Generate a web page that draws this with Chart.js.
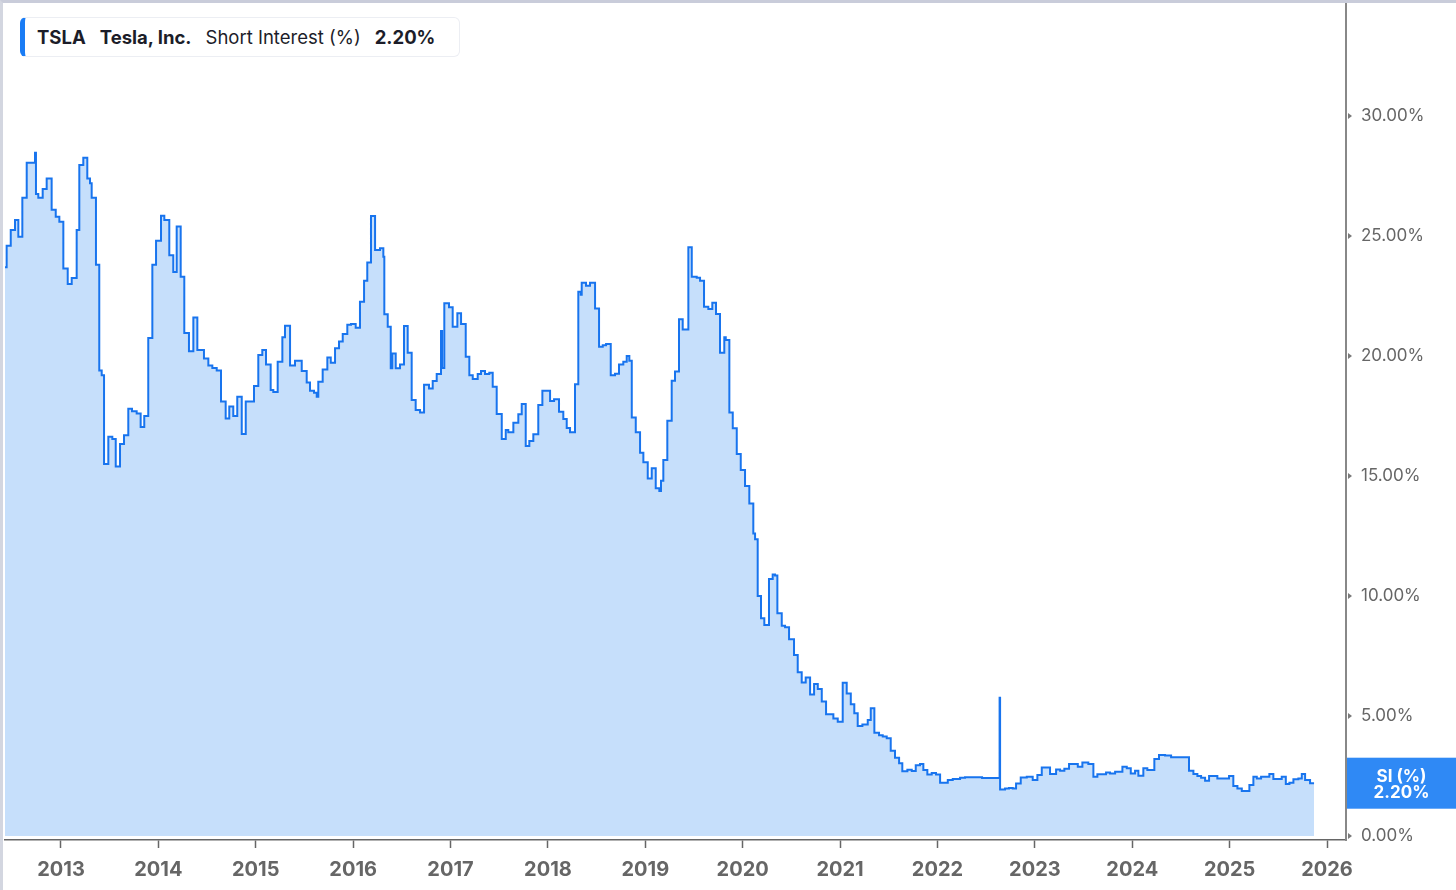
<!DOCTYPE html>
<html>
<head>
<meta charset="utf-8">
<script src="https://cdn.jsdelivr.net/npm/chart.js@4"></script>
<style>
  html, body { margin: 0; padding: 0; background: #fff; }
  #wrap { position: relative; width: 1456px; height: 890px; overflow: hidden; }
  #frame { position: absolute; left: 0; top: 0; width: 1456px; height: 890px; box-sizing: border-box;
           border-top: 3px solid #c9ccda; border-left: 3px solid #d3d6e0; pointer-events: none; }
  #legend { position: absolute; left: 20px; top: 17px; width: 440px; height: 40px; box-sizing: border-box;
            border: 1px solid #eceef3; border-left: 5px solid #1a7cf5; border-radius: 6px; background: #fff;
            font-family: Inter, "Noto Sans", sans-serif; font-size: 18.5px; color: #1c1d29;
            display: flex; align-items: center; padding-left: 12px; white-space: nowrap; }
  #legend span { margin-right: 14px; }
  #legend .b { font-weight: 700; }
</style>
</head>
<body>
<div id="wrap">
  <canvas id="c" width="1456" height="890"></canvas>
  <div id="legend"><span class="b">TSLA</span><span class="b">Tesla, Inc.</span><span>Short Interest (%)</span><span class="b">2.20%</span></div>
  <div id="frame"></div>
</div>
<script>
// Dates as decimal years; value = short interest in % (level from that date on)
const dates = [
2012.425,2012.442,2012.484,2012.528,2012.562,2012.603,2012.648,2012.733,2012.743,2012.767,
2012.812,2012.853,2012.904,2012.946,2012.983,2013.024,2013.069,2013.110,2013.161,2013.188,
2013.229,2013.270,2013.298,2013.315,2013.359,2013.393,2013.418,2013.442,2013.486,2013.527,
2013.562,2013.606,2013.647,2013.691,2013.729,2013.777,2013.818,2013.855,2013.896,2013.938,
2013.976,2014.027,2014.061,2014.112,2014.153,2014.188,2014.229,2014.266,2014.314,2014.359,
2014.400,2014.468,2014.513,2014.554,2014.599,2014.643,2014.691,2014.728,2014.769,2014.810,
2014.856,2014.897,2014.982,2015.026,2015.067,2015.105,2015.153,2015.180,2015.225,2015.273,
2015.300,2015.352,2015.403,2015.472,2015.523,2015.557,2015.598,2015.626,2015.642,2015.687,
2015.735,2015.770,2015.814,2015.855,2015.893,2015.940,2015.978,2016.026,2016.070,2016.112,
2016.145,2016.183,2016.225,2016.276,2016.310,2016.320,2016.355,2016.386,2016.402,2016.437,
2016.481,2016.522,2016.560,2016.601,2016.642,2016.687,2016.728,2016.779,2016.817,2016.858,
2016.902,2016.913,2016.936,2016.984,2017.022,2017.070,2017.108,2017.156,2017.193,2017.228,
2017.279,2017.313,2017.354,2017.398,2017.433,2017.474,2017.526,2017.567,2017.593,2017.645,
2017.696,2017.731,2017.772,2017.809,2017.850,2017.901,2017.943,2018.022,2018.063,2018.114,
2018.158,2018.193,2018.227,2018.278,2018.312,2018.337,2018.347,2018.391,2018.432,2018.484,
2018.525,2018.563,2018.597,2018.645,2018.689,2018.730,2018.774,2018.809,2018.836,2018.861,
2018.902,2018.946,2018.980,2019.025,2019.066,2019.107,2019.144,2019.161,2019.185,2019.226,
2019.271,2019.305,2019.346,2019.384,2019.442,2019.477,2019.528,2019.562,2019.603,2019.647,
2019.688,2019.726,2019.767,2019.811,2019.826,2019.863,2019.898,2019.939,2019.980,2020.024,
2020.068,2020.109,2020.127,2020.154,2020.188,2020.222,2020.270,2020.308,2020.332,2020.356,
2020.401,2020.435,2020.476,2020.527,2020.565,2020.606,2020.647,2020.692,2020.733,2020.771,
2020.812,2020.856,2020.931,2020.976,2021.027,2021.068,2021.110,2021.146,2021.181,2021.229,
2021.284,2021.315,2021.352,2021.400,2021.438,2021.479,2021.520,2021.564,2021.606,2021.639,
2021.691,2021.736,2021.777,2021.821,2021.855,2021.896,2021.941,2021.985,2022.027,2022.106,
2022.157,2022.232,2022.283,2022.458,2022.638,2022.643,2022.694,2022.735,2022.773,2022.807,
2022.855,2022.917,2022.978,2023.026,2023.071,2023.156,2023.218,2023.259,2023.303,2023.351,
2023.441,2023.488,2023.549,2023.601,2023.642,2023.731,2023.772,2023.824,2023.899,2023.944,
2023.985,2024.029,2024.063,2024.114,2024.155,2024.227,2024.275,2024.337,2024.399,2024.583,
2024.628,2024.669,2024.707,2024.748,2024.789,2024.874,2024.994,2025.038,2025.080,2025.125,
2025.203,2025.244,2025.279,2025.323,2025.408,2025.449,2025.535,2025.577,2025.614,2025.655,
2025.706,2025.741,2025.775,2025.826,2025.867
];
const siValues = [
23.70,24.60,25.25,25.67,24.97,26.60,28.05,28.47,26.75,26.60,
26.96,27.40,26.10,25.80,25.60,23.65,23.00,23.25,25.25,27.96,
28.26,27.40,27.20,26.60,23.80,19.40,19.20,15.50,16.64,16.54,
15.40,16.33,16.70,17.80,17.70,17.60,17.04,17.50,20.75,23.80,
24.80,25.85,25.67,24.20,23.50,25.40,23.30,20.96,20.20,21.60,
20.25,19.90,19.60,19.50,19.40,18.10,17.40,17.90,17.50,18.30,
16.75,18.10,18.75,20.04,20.25,19.65,18.58,18.50,19.76,20.78,
21.26,19.60,19.80,19.38,18.90,18.55,18.47,18.30,18.93,19.44,
19.94,19.72,20.32,20.60,20.92,21.30,21.33,21.18,22.26,23.14,
23.90,25.83,24.42,24.49,24.14,21.74,21.22,19.49,20.10,19.49,
19.65,21.25,20.14,18.17,17.75,17.65,18.80,18.65,18.96,19.25,
21.04,19.50,22.20,22.03,21.22,21.78,21.33,19.97,19.20,19.04,
19.25,19.38,19.25,19.30,18.72,17.58,16.54,16.92,16.82,17.22,
17.57,18.00,16.25,16.46,16.74,17.96,18.55,18.13,18.20,17.68,
17.38,17.00,16.82,18.82,22.68,22.55,23.05,22.93,23.05,21.98,
20.39,20.45,20.50,19.20,19.26,19.65,19.76,20.00,19.80,17.44,
16.82,15.97,15.57,14.90,15.32,14.49,14.38,14.80,15.67,17.30,
18.97,19.35,21.53,21.10,24.53,23.30,23.26,23.14,22.05,21.96,
22.22,21.75,20.14,20.78,20.67,17.65,16.99,15.92,15.25,14.58,
13.86,12.60,12.36,10.00,9.07,8.79,10.71,10.90,10.85,9.28,
8.76,8.70,8.20,7.54,6.82,6.40,6.60,5.90,6.33,6.13,
5.60,5.07,4.90,4.76,6.39,5.94,5.49,5.11,4.58,4.65,
4.83,5.32,4.30,4.20,4.15,4.07,3.55,3.26,3.03,2.70,
2.76,2.71,2.95,3.00,2.75,2.56,2.62,2.56,2.22,2.33,
2.38,2.43,2.45,2.42,5.76,1.94,1.98,2.00,1.98,2.19,
2.44,2.47,2.33,2.54,2.85,2.58,2.77,2.72,2.80,3.00,
2.89,3.06,3.00,2.47,2.57,2.65,2.60,2.68,2.89,2.82,
2.60,2.72,2.51,2.82,2.75,3.21,3.38,3.35,3.28,2.72,
2.58,2.50,2.43,2.30,2.50,2.40,2.50,2.08,1.98,1.88,
2.13,2.47,2.40,2.47,2.58,2.38,2.47,2.17,2.22,2.36,
2.40,2.58,2.33,2.20,2.20
];
const yearTicks = [2013,2014,2015,2016,2017,2018,2019,2020,2021,2022,2023,2024,2025,2026];
const pctTicks = [0,5,10,15,20,25,30];
const lastValue = 2.20;
const lastLabelTitle = 'SI (%)';
const lastLabelValue = '2.20%';

const points = dates.map((d, i) => ({ x: d, y: siValues[i] }));

const tickMarkers = {
  id: 'tickMarkers',
  afterDraw(chart) {
    const ctx = chart.ctx, y = chart.scales.y, area = chart.chartArea;
    ctx.save();
    ctx.fillStyle = '#7a7a7a';
    y.ticks.forEach(t => {
      const py = y.getPixelForValue(t.value);
      ctx.beginPath();
      ctx.moveTo(area.right + 2, py - 3);
      ctx.lineTo(area.right + 6, py);
      ctx.lineTo(area.right + 2, py + 3);
      ctx.closePath();
      ctx.fill();
    });
    ctx.restore();
  }
};

const lastLabel = {
  id: 'lastLabel',
  afterDraw(chart) {
    const ctx = chart.ctx, y = chart.scales.y, area = chart.chartArea;
    const py = y.getPixelForValue(lastValue);
    const h = 51;
    ctx.save();
    ctx.fillStyle = '#2f89f5';
    ctx.fillRect(area.right + 1, py - h / 2, chart.width - area.right - 1, h);
    ctx.fillStyle = '#ffffff';
    ctx.font = '700 17px Inter, "Noto Sans", sans-serif';
    ctx.textAlign = 'center';
    ctx.textBaseline = 'middle';
    const cx = area.right + 1 + (chart.width - area.right - 1) / 2;
    ctx.fillText(lastLabelTitle, cx, py - 6);
    ctx.fillText(lastLabelValue, cx, py + 10);
    ctx.restore();
  }
};

new Chart(document.getElementById('c'), {
  type: 'line',
  data: {
    datasets: [{
      data: points,
      stepped: 'before',
      borderColor: '#1874ee',
      borderWidth: 2,
      backgroundColor: '#c6dffb',
      fill: 'origin',
      pointRadius: 0,
      tension: 0
    }]
  },
  options: {
    responsive: false,
    animation: false,
    devicePixelRatio: 1,
    layout: { padding: { left: 5, top: 3, right: 0, bottom: 0 } },
    plugins: { legend: { display: false }, tooltip: { enabled: false } },
    scales: {
      x: {
        type: 'linear',
        min: 2012.425,
        max: 2026.195,
        afterBuildTicks(scale) { scale.ticks = yearTicks.map(v => ({ value: v })); },
        afterFit(scale) { scale.height = 50; scale.paddingLeft = 0; scale.paddingRight = 0; },
        ticks: {
          callback: v => String(v),
          font: { family: 'Inter, "Noto Sans", sans-serif', size: 20, weight: '700' },
          color: '#666666',
          maxRotation: 0,
          autoSkip: false,
          padding: 10
        },
        grid: { drawOnChartArea: false, drawTicks: true, tickLength: 8, color: '#666666', tickWidth: 1.5 },
        border: { display: true, color: '#666666', width: 1.5 }
      },
      y: {
        position: 'right',
        min: -0.1667,
        max: 34.71,
        afterBuildTicks(scale) { scale.ticks = pctTicks.map(v => ({ value: v })); },
        afterFit(scale) { scale.width = 110; scale.paddingTop = 0; scale.paddingBottom = 0; },
        ticks: {
          callback: v => v.toFixed(2) + '%',
          font: { family: 'Inter, "Noto Sans", sans-serif', size: 17 },
          color: '#666666',
          padding: 9
        },
        grid: { drawOnChartArea: false, drawTicks: true, tickLength: 6, color: 'rgba(0,0,0,0)' },
        border: { display: true, color: '#888888', width: 2 }
      }
    }
  },
  plugins: [tickMarkers, lastLabel]
});
</script>
</body>
</html>
